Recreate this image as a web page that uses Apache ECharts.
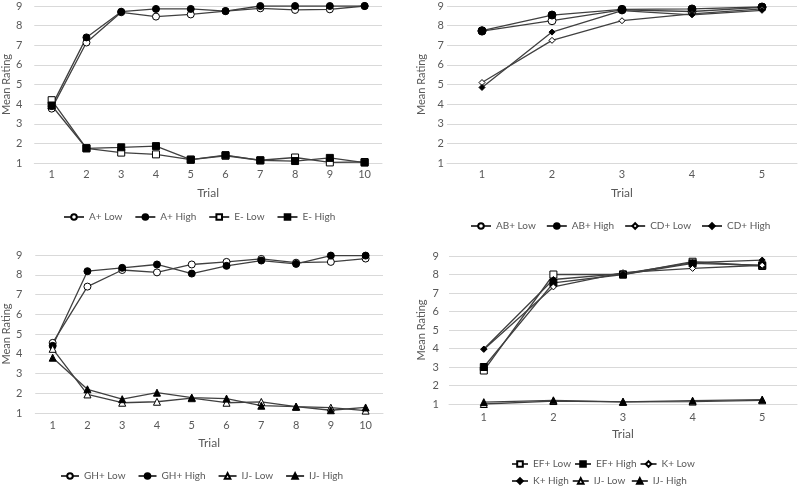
<!DOCTYPE html>
<html>
<head>
<meta charset="utf-8">
<script src="https://cdn.jsdelivr.net/npm/echarts@6/dist/echarts.min.js"></script>
<style>
  html, body { margin: 0; padding: 0; background: #fff; }
  #chart { width: 800px; height: 486px; }
</style>
</head>
<body>
<div id="chart"></div>
<script>
// x categories
var trials10 = ['1', '2', '3', '4', '5', '6', '7', '8', '9', '10'];
var trials5 = ['1', '2', '3', '4', '5'];

// top left
var aPlusLow = [3.77, 7.14, 8.68, 8.46, 8.57, 8.74, 8.88, 8.8, 8.83, 9.0];
var aPlusHigh = [3.9, 7.4, 8.71, 8.85, 8.85, 8.74, 9.0, 9.0, 9.0, 9.0];
var eMinusLow = [4.2, 1.75, 1.53, 1.44, 1.17, 1.37, 1.14, 1.28, 1.03, 1.05];
var eMinusHigh = [3.93, 1.75, 1.8, 1.86, 1.17, 1.4, 1.13, 1.1, 1.26, 1.02];

// top right
var abPlusLow = [7.72, 8.25, 8.8, 8.72, 8.93];
var abPlusHigh = [7.74, 8.54, 8.83, 8.85, 8.95];
var cdPlusLow = [5.1, 7.25, 8.25, 8.6, 8.85];
var cdPlusHigh = [4.85, 7.67, 8.76, 8.55, 8.78];

// bottom left
var ghPlusLow = [4.55, 7.4, 8.24, 8.12, 8.52, 8.65, 8.8, 8.61, 8.65, 8.82];
var ghPlusHigh = [4.4, 8.18, 8.35, 8.52, 8.06, 8.45, 8.72, 8.55, 8.97, 8.97];
var ijMinusLow = [4.25, 1.94, 1.52, 1.57, 1.75, 1.52, 1.56, 1.32, 1.27, 1.12];
var ijMinusHigh = [3.8, 2.2, 1.7, 2.03, 1.78, 1.73, 1.37, 1.32, 1.14, 1.28];

// bottom right
var efPlusLow = [2.81, 8.0, 8.0, 8.69, 8.46];
var efPlusHigh = [3.0, 7.55, 8.0, 8.6, 8.5];
var kPlusLow = [3.95, 7.33, 8.1, 8.33, 8.5];
var kPlusHigh = [3.97, 7.73, 8.05, 8.64, 8.78];
var ijMinusLow2 = [1.0, 1.16, 1.12, 1.13, 1.2];
var ijMinusHigh2 = [1.1, 1.2, 1.12, 1.18, 1.24];

var ratingTicks = [1, 9, 1]; // min, max, interval

var textColor = '#595959';
var lineColor = '#404040';
var gridColor = '#d9d9d9';
var fontFam = 'Lato, "Open Sans", sans-serif';

var myChart = echarts.init(document.getElementById('chart'));

function xAx(idx, cats, labelMargin, nameGap) {
    return {
        type: 'category', gridIndex: idx, data: cats, boundaryGap: true,
        name: 'Trial', nameLocation: 'middle', nameGap: nameGap,
        nameTextStyle: { color: textColor, fontSize: 12, fontFamily: fontFam },
        axisLine: { lineStyle: { color: gridColor } },
        axisTick: { show: false },
        axisLabel: { color: textColor, fontSize: 11, margin: labelMargin, fontFamily: fontFam }
    };
}
function yAx(idx, labelMargin, nameGap) {
    return {
        type: 'value', gridIndex: idx,
        min: ratingTicks[0], max: ratingTicks[1], interval: ratingTicks[2],
        name: 'Mean Rating', nameLocation: 'middle', nameGap: nameGap,
        nameTextStyle: { color: textColor, fontSize: 11, fontFamily: fontFam },
        axisLine: { show: false }, axisTick: { show: false },
        axisLabel: { color: textColor, fontSize: 11, margin: labelMargin, fontFamily: fontFam },
        splitLine: { lineStyle: { color: gridColor } }
    };
}
function ser(name, idx, data, symbol, filled, size) {
    return {
        name: name, type: 'line', xAxisIndex: idx, yAxisIndex: idx, data: data,
        symbol: symbol, symbolSize: size, showAllSymbol: true,
        lineStyle: { color: lineColor, width: 1.3 },
        itemStyle: { color: filled ? '#000' : '#fff', borderColor: '#000', borderWidth: 1 },
        emphasis: { disabled: true },
        animation: false
    };
}
function leg(names, left, top, iconW, gap) {
    return {
        data: names, left: left, top: top, width: 400,
        itemWidth: iconW, itemHeight: 7, itemGap: gap,
        selectedMode: false,
        textStyle: { color: textColor, fontSize: 10, fontFamily: fontFam }
    };
}

var option = {
    backgroundColor: '#fff',
    animation: false,
    grid: [
        { left: 31, top: 6, width: 351, height: 157 },
        { left: 447, top: 6, width: 350, height: 157 },
        { left: 33, top: 255, width: 350, height: 158 },
        { left: 449, top: 256, width: 348, height: 148 }
    ],
    xAxis: [
        xAx(0, trials10, 6, 24),
        xAx(1, trials5, 6, 24),
        xAx(2, trials10, 7, 24),
        xAx(3, trials5, 8, 24)
    ],
    yAxis: [
        yAx(0, 12, 20),
        yAx(1, 3, 20),
        yAx(2, 13, 22),
        yAx(3, 10, 22)
    ],
    legend: [
        leg(['A+ Low', 'A+ High', 'E- Low', 'E- High'], 58, 207, 20, 12),
        leg(['AB+ Low', 'AB+ High', 'CD+ Low', 'CD+ High'], 465, 216, 20, 10),
        leg(['GH+ Low', 'GH+ High', 'IJ- Low', 'IJ- High'], 55, 466, 18, 12),
        leg(['EF+ Low', 'EF+ High', 'K+ Low'], 506, 454, 16, 3),
        leg(['K+ High', 'IJ- Low ', 'IJ- High '], 506, 471, 16, 3)
    ],
    series: [
        ser('A+ Low', 0, aPlusLow, 'circle', false, 7),
        ser('A+ High', 0, aPlusHigh, 'circle', true, 7),
        ser('E- Low', 0, eMinusLow, 'rect', false, 7),
        ser('E- High', 0, eMinusHigh, 'rect', true, 7),

        ser('AB+ Low', 1, abPlusLow, 'circle', false, 8),
        ser('AB+ High', 1, abPlusHigh, 'circle', true, 8),
        ser('CD+ Low', 1, cdPlusLow, 'diamond', false, 6),
        ser('CD+ High', 1, cdPlusHigh, 'diamond', true, 6),

        ser('GH+ Low', 2, ghPlusLow, 'circle', false, 7),
        ser('GH+ High', 2, ghPlusHigh, 'circle', true, 7),
        ser('IJ- Low', 2, ijMinusLow, 'triangle', false, 7),
        ser('IJ- High', 2, ijMinusHigh, 'triangle', true, 7),

        ser('EF+ Low', 3, efPlusLow, 'rect', false, 7),
        ser('EF+ High', 3, efPlusHigh, 'rect', true, 7),
        ser('K+ Low', 3, kPlusLow, 'diamond', false, 6),
        ser('K+ High', 3, kPlusHigh, 'diamond', true, 6),
        // trailing space keeps these legend entries separate from the bottom-left panel
        ser('IJ- Low ', 3, ijMinusLow2, 'triangle', false, 7),
        ser('IJ- High ', 3, ijMinusHigh2, 'triangle', true, 7)
    ]
};
myChart.setOption(option);
</script>
</body>
</html>
